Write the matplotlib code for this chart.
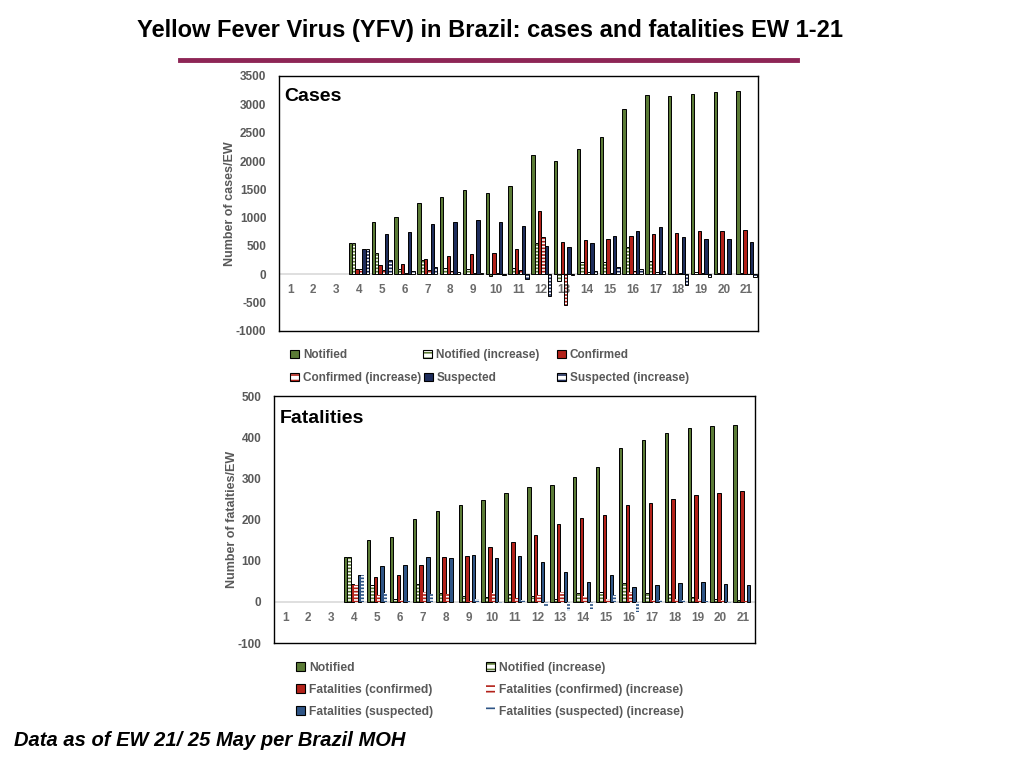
import numpy as np
import matplotlib
matplotlib.use("Agg")
import matplotlib.pyplot as plt
from matplotlib.patches import Patch
from matplotlib.lines import Line2D
from matplotlib.transforms import offset_copy

plt.rcParams['font.family'] = ['Liberation Sans', 'DejaVu Sans']
plt.rcParams['hatch.linewidth'] = 1.2
plt.rcParams['axes.unicode_minus'] = False

weeks = np.arange(1, 22)

# cases per epidemiological week
notified = [0, 0, 0, 560, 930, 1020, 1260, 1370, 1480, 1440, 1560, 2110, 2000, 2220, 2430, 2910, 3160, 3150, 3190, 3210, 3230]
notified_inc = [0, 0, 0, 560, 370, 90, 250, 110, 90, -30, 120, 550, -120, 215, 213, 480, 240, 10, 35, 15, 15]
confirmed = [0, 0, 0, 90, 160, 180, 270, 330, 360, 380, 450, 1110, 570, 600, 620, 680, 710, 730, 770, 765, 780]
confirmed_inc = [0, 0, 0, 90, 70, 20, 85, 60, 30, 20, 70, 660, -540, 35, 20, 55, 35, 15, 30, 5, 12]
suspected = [0, 0, 0, 450, 710, 750, 890, 930, 950, 930, 860, 500, 480, 550, 675, 760, 840, 660, 620, 620, 570]
suspected_inc = [0, 0, 0, 450, 260, 50, 130, 35, 15, -20, -90, -380, -20, 55, 124, 90, 55, -180, -50, 0, -50]

# fatalities per epidemiological week
fat_notified = [0, 0, 0, 110, 150, 158, 202, 221, 236, 248, 265, 279, 284, 304, 328, 374, 394, 411, 423, 428, 430]
fat_notified_inc = [0, 0, 0, 110, 42, 7, 44, 22, 15, 12, 19, 15, 7, 22, 24, 46, 22, 19, 12, 7, 4]
fat_confirmed = [0, 0, 0, 44, 61, 66, 90, 109, 112, 134, 146, 163, 189, 204, 211, 236, 240, 250, 260, 265, 270]
fat_confirmed_inc = [0, 0, 0, 40, 17, 5, 24, 19, 3, 22, 10, 17, 25, 15, 7, 25, 4, 8, 8, 5, 3]
fat_suspected = [0, 0, 0, 66, 87, 90, 109, 107, 114, 107, 112, 97, 73, 49, 66, 36, 41, 46, 49, 44, 41]
fat_suspected_inc = [0, 0, 0, 66, 21, 3, 19, 0, 7, -5, 5, -12, -22, -17, 17, -24, 5, 5, 3, -3, 0]

GREEN = '#5B7B36'
RED = '#B3221A'
NAVY = '#1E2D5C'
STEEL = '#2F5586'
GRAY = '#595959'
HATCH = '-----'
W = 0.148

fig = plt.figure(figsize=(10.24, 7.68), dpi=100)


def solid_bars(ax, pos, vals, color):
    vals = np.asarray(vals, float)
    m = vals != 0
    ax.bar(pos[m], vals[m], W, color=color, edgecolor='black', linewidth=0.7, zorder=3)


def hatched_bars(ax, pos, vals, color, outline=True):
    vals = np.asarray(vals, float)
    m = vals != 0
    ax.bar(pos[m], vals[m], W, color='white', edgecolor=color, hatch=HATCH, linewidth=0, zorder=3)
    if outline:
        ax.bar(pos[m], vals[m], W, fill=False, edgecolor='black', linewidth=0.7, zorder=4)


def style_axes(ax, ylim, step, ylabel, title, title_y):
    ax.set_xlim(0.5, 21.5)
    ax.set_ylim(*ylim)
    ax.set_yticks(np.arange(ylim[0], ylim[1] + 1, step))
    ax.set_xticks([])
    ax.tick_params(axis='y', length=0, pad=9, labelsize=8.5, labelcolor=GRAY)
    for lab in ax.get_yticklabels():
        lab.set_fontweight('bold')
    for s in ax.spines.values():
        s.set_color('black')
        s.set_linewidth(1.0)
    ax.axhline(0, color='#D9D9D9', lw=1.2, zorder=2)
    tr = offset_copy(ax.transData, fig=fig, y=-16, units='dots')
    for w in weeks:
        ax.text(w, 0, str(w), transform=tr, ha='center', va='center',
                fontsize=8.5, fontweight='bold', color='#6B6B6B')
    ax.set_ylabel(ylabel, fontsize=9, fontweight='bold', color=GRAY, labelpad=0)
    ax.text(0.012, title_y, title, transform=ax.transAxes, fontsize=14,
            fontweight='bold', va='center', ha='left')


def legend_item(handle, label, x, y, size):
    fig.legend([handle], [label], loc='center left',
               bbox_to_anchor=(x / 1024, 1 - y / 768), frameon=False,
               borderpad=0, borderaxespad=0, handlelength=0.75, handleheight=0.75,
               handletextpad=0.35, prop={'size': size, 'weight': 'bold'},
               labelcolor=GRAY)


def hatch_handle(color, outline=True, hatch='---'):
    h = Patch(facecolor='white', edgecolor=color, hatch=hatch, linewidth=0)
    if outline:
        return (h, Patch(facecolor='none', edgecolor='black', linewidth=0.8))
    return h


# cases panel
ax1 = fig.add_axes([279 / 1024, 1 - 331 / 768, 479 / 1024, 255 / 768])
offs = (np.arange(6) - 2.5) * W
solid_bars(ax1, weeks + offs[0], notified, GREEN)
hatched_bars(ax1, weeks + offs[1], notified_inc, GREEN)
solid_bars(ax1, weeks + offs[2], confirmed, RED)
hatched_bars(ax1, weeks + offs[3], confirmed_inc, RED)
solid_bars(ax1, weeks + offs[4], suspected, NAVY)
hatched_bars(ax1, weeks + offs[5], suspected_inc, NAVY)
style_axes(ax1, (-1000, 3500), 500, 'Number of cases/EW', 'Cases', 0.92)

# fatalities panel
ax2 = fig.add_axes([274 / 1024, 1 - 643 / 768, 481 / 1024, 247 / 768])
solid_bars(ax2, weeks + offs[0], fat_notified, GREEN)
hatched_bars(ax2, weeks + offs[1], fat_notified_inc, GREEN)
solid_bars(ax2, weeks + offs[2], fat_confirmed, RED)
hatched_bars(ax2, weeks + offs[3], fat_confirmed_inc, RED, outline=False)
solid_bars(ax2, weeks + offs[4], fat_suspected, STEEL)
hatched_bars(ax2, weeks + offs[5], fat_suspected_inc, STEEL, outline=False)
style_axes(ax2, (-100, 500), 100, 'Number of fatalties/EW', 'Fatalities', 0.91)

# legends
sq = lambda c: Patch(facecolor=c, edgecolor='black', linewidth=0.8)
legend_item(sq(GREEN), 'Notified', 290, 355, 8.5)
legend_item(hatch_handle(GREEN), 'Notified (increase)', 423, 355, 8.5)
legend_item(sq(RED), 'Confirmed', 557, 355, 8.5)
legend_item(hatch_handle(RED), 'Confirmed (increase)', 290, 378, 8.5)
legend_item(sq(NAVY), 'Suspected', 424, 378, 8.5)
legend_item(hatch_handle(NAVY), 'Suspected (increase)', 557, 378, 8.5)

legend_item(sq(GREEN), 'Notified', 296, 668, 8.7)
legend_item(hatch_handle(GREEN), 'Notified (increase)', 486, 668, 8.7)
legend_item(sq(RED), 'Fatalities (confirmed)', 296, 690, 8.7)
legend_item(hatch_handle(RED, outline=False), 'Fatalities (confirmed) (increase)', 486, 690, 8.7)
legend_item(sq(STEEL), 'Fatalities (suspected)', 296, 712, 8.7)
legend_item(hatch_handle(STEEL, outline=False, hatch='-'), 'Fatalities (suspected) (increase)', 486, 712, 8.7)

# title, rule and footer
fig.text(490 / 1024, 1 - 30 / 768, 'Yellow Fever Virus (YFV) in Brazil: cases and fatalities EW 1-21',
         ha='center', va='center', fontsize=17, fontweight='bold')
fig.add_artist(Line2D([180 / 1024, 797 / 1024], [1 - 60 / 768] * 2, color='#8E2556', lw=3.5))
fig.text(14 / 1024, 1 - 740 / 768, 'Data as of EW 21/ 25 May per Brazil MOH',
         ha='left', va='center', fontsize=14.5, fontweight='bold', style='italic')

fig.savefig('out.png', dpi=100)
